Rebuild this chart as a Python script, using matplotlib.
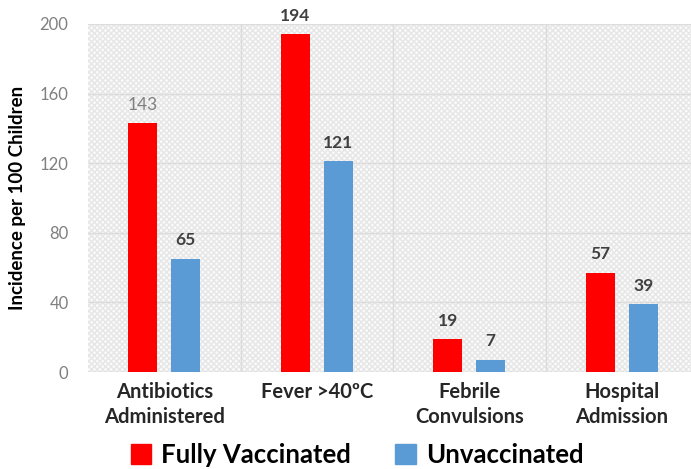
import matplotlib
matplotlib.use("Agg")
import matplotlib.pyplot as plt
import numpy as np
from matplotlib.patches import Rectangle, Patch

categories = ["Antibiotics\nAdministered", "Fever >40\u00baC", "Febrile\nConvulsions", "Hospital\nAdmission"]
fully_vaccinated = [143, 194, 19, 57]
unvaccinated = [65, 121, 7, 39]
series_names = ["Fully Vaccinated", "Unvaccinated"]
yticks = [0, 40, 80, 120, 160, 200]

plt.rcParams['font.family'] = ['Lato', 'DejaVu Sans']

fig = plt.figure(figsize=(6.91, 4.69), dpi=100)
ax = fig.add_axes([88/691, 1-372/469, 1-88/691, (372-24)/469])

ax.set_facecolor('#fafafa')
bg = Rectangle((0, 0), 1, 1, transform=ax.transAxes, facecolor='#fafafa',
               edgecolor='#e6e6e6', hatch='xxxxxx', linewidth=0, zorder=0)
ax.add_patch(bg)

x = np.arange(len(categories))
w = 0.19
off = 0.14
ax.bar(x - off, fully_vaccinated, w, color='#ff0000', zorder=3)
ax.bar(x + off, unvaccinated, w, color='#5b9bd5', zorder=3)

ax.set_xlim(-0.5, 3.454)
ax.set_ylim(0, 200)
ax.set_yticks(yticks)
ax.set_yticklabels([str(v) for v in yticks], color='#808080', fontsize=12)

for yv in yticks[1:]:
    ax.axhline(yv, color='#dcdcdc', lw=1, zorder=1)
for xv in np.arange(len(categories) - 1) + 0.5:
    ax.axvline(xv, color='#dcdcdc', lw=1, zorder=1)
ax.axhline(0, color='#d0d0d0', lw=1, zorder=2)

for i, (rv, bv) in enumerate(zip(fully_vaccinated, unvaccinated)):
    if i == 0:
        ax.text(x[i] - off, rv + 6, str(rv), ha='center', va='bottom', fontsize=12.5, color='#808080')
    else:
        ax.text(x[i] - off, rv + 6, str(rv), ha='center', va='bottom', fontsize=12.5,
                color='#404040', fontweight='bold')
    ax.text(x[i] + off, bv + 6, str(bv), ha='center', va='bottom', fontsize=12.5,
            color='#404040', fontweight='bold')

ax.set_xticks(x)
ax.set_xticklabels(categories, fontsize=14.5, fontweight='bold', color='#262626', linespacing=1.3)
ax.tick_params(axis='x', length=0, pad=7)
ax.tick_params(axis='y', length=0, pad=14)
for s in ax.spines.values():
    s.set_visible(False)

ax.set_ylabel("Incidence per 100 Children", fontsize=13.5, fontweight='bold', color='black', labelpad=10)

handles = [Patch(color='#ff0000'), Patch(color='#5b9bd5')]
fig.legend(handles, series_names, loc='center', bbox_to_anchor=(357/691, 1-455/469), ncol=2,
           frameon=False, prop={'size': 18.5, 'weight': 'bold'}, handlelength=0.8, handleheight=0.8,
           handletextpad=0.4, columnspacing=1.7)

fig.savefig("out.png", dpi=100)
